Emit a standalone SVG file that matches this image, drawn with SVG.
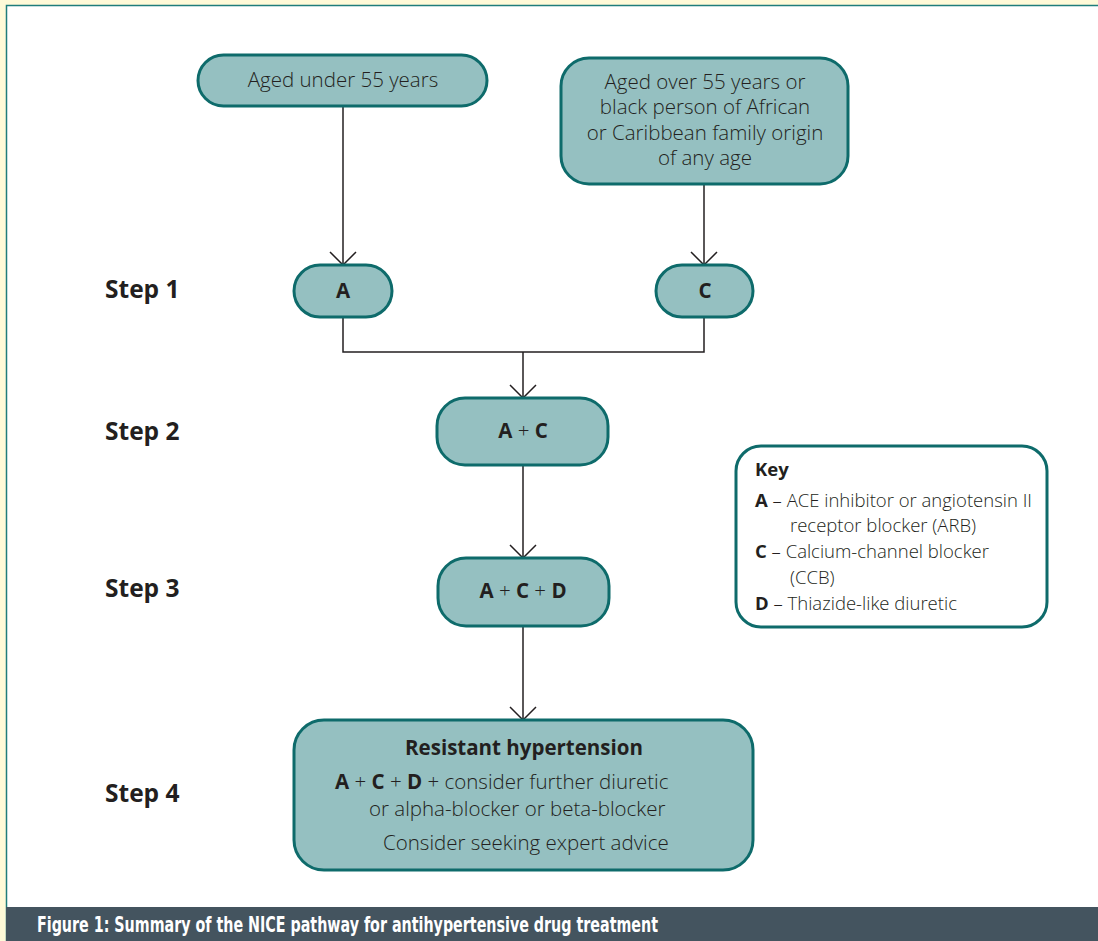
<svg xmlns="http://www.w3.org/2000/svg" width="1098" height="941" viewBox="0 0 1098 941">
<style>
.node{fill:#95c0c1;stroke:#0e6b6b;stroke-width:3}
.key{fill:#fff;stroke:#0e6b6b;stroke-width:3}
.t{font-family:"Open Sans","Noto Sans",sans-serif;font-size:20.5px;font-weight:300;fill:#231f20}
.step{font-family:"Open Sans","Noto Sans",sans-serif;font-size:24.5px;font-weight:bold;fill:#231f20}
.k{font-family:"Open Sans","Noto Sans",sans-serif;font-size:18.5px;font-weight:300;fill:#231f20}
.b{font-weight:bold}
.conn{fill:none;stroke:#231f20;stroke-width:1.5}
.cap{font-family:"DejaVu Sans Condensed","DejaVu Sans",sans-serif;font-weight:bold;font-size:21px;fill:#fff}
</style>
<defs>
<marker id="arr" markerWidth="30" markerHeight="30" refX="14" refY="14" orient="auto" markerUnits="userSpaceOnUse" viewBox="0 0 30 30">
<path d="M1,1 L14,14 L1,27" fill="none" stroke="#231f20" stroke-width="1.5"/>
</marker>
</defs>
<rect x="0" y="0" width="1098" height="941" fill="#fffad8"/>
<rect x="6.5" y="5.5" width="1100" height="940" fill="#fff" stroke="#1f7d7b" stroke-width="1.5"/>
<rect x="6" y="907" width="1092" height="34" fill="#44545f"/>
<text class="cap" x="37" y="932" textLength="621" lengthAdjust="spacingAndGlyphs">Figure 1: Summary of the NICE pathway for antihypertensive drug treatment</text>

<g id="steps">
<text class="step" x="105" y="298">Step 1</text>
<text class="step" x="105" y="440">Step 2</text>
<text class="step" x="105" y="597">Step 3</text>
<text class="step" x="105" y="802">Step 4</text>
</g>

<g id="connectors">
<path class="conn" d="M343,106 V265" marker-end="url(#arr)"/>
<path class="conn" d="M704,184 V265" marker-end="url(#arr)"/>
<path class="conn" d="M343,317 V352 H704 V317"/>
<path class="conn" d="M523,352 V398" marker-end="url(#arr)"/>
<path class="conn" d="M523,465 V558" marker-end="url(#arr)"/>
<path class="conn" d="M523,626 V720" marker-end="url(#arr)"/>
</g>

<g id="under55">
<rect class="node" x="198" y="55" width="289" height="51" rx="25.5"/>
<text class="t" x="343" y="87" text-anchor="middle">Aged under 55 years</text>
</g>
<g id="over55">
<rect class="node" x="561" y="58" width="287" height="126" rx="28"/>
<text class="t" x="705" y="89" text-anchor="middle">Aged over 55 years or</text>
<text class="t" x="705" y="114" text-anchor="middle">black person of African</text>
<text class="t" x="705" y="140" text-anchor="middle">or Caribbean family origin</text>
<text class="t" x="705" y="165" text-anchor="middle">of any age</text>
</g>
<g id="stepA">
<rect class="node" x="294" y="265" width="98" height="52" rx="26"/>
<text class="t b" x="343" y="298" text-anchor="middle">A</text>
</g>
<g id="stepC">
<rect class="node" x="656" y="265" width="97" height="52" rx="26"/>
<text class="t b" x="705" y="298" text-anchor="middle">C</text>
</g>
<g id="stepAC">
<rect class="node" x="437" y="398" width="171" height="67" rx="28"/>
<text class="t" x="523" y="438" text-anchor="middle"><tspan class="b">A</tspan> + <tspan class="b">C</tspan></text>
</g>
<g id="stepACD">
<rect class="node" x="438" y="558" width="171" height="68" rx="28"/>
<text class="t" x="523" y="598" text-anchor="middle"><tspan class="b">A</tspan> + <tspan class="b">C</tspan> + <tspan class="b">D</tspan></text>
</g>
<g id="resistant">
<rect class="node" x="294" y="720" width="459" height="150" rx="30"/>
<text class="t b" x="524" y="755" text-anchor="middle">Resistant hypertension</text>
<text class="t" x="335" y="789"><tspan class="b">A</tspan> + <tspan class="b">C</tspan> + <tspan class="b">D</tspan> + consider further diuretic</text>
<text class="t" x="369" y="816">or alpha-blocker or beta-blocker</text>
<text class="t" x="383" y="850">Consider seeking expert advice</text>
</g>
<g id="key">
<rect class="key" x="736" y="446" width="311" height="181" rx="25"/>
<text class="k b" x="755" y="476">Key</text>
<text class="k" x="755" y="507"><tspan class="b">A</tspan> – ACE inhibitor or angiotensin II</text>
<text class="k" x="790" y="532">receptor blocker (ARB)</text>
<text class="k" x="755" y="558"><tspan class="b">C</tspan> – Calcium-channel blocker</text>
<text class="k" x="790" y="584">(CCB)</text>
<text class="k" x="755" y="610"><tspan class="b">D</tspan> – Thiazide-like diuretic</text>
</g>
</svg>
